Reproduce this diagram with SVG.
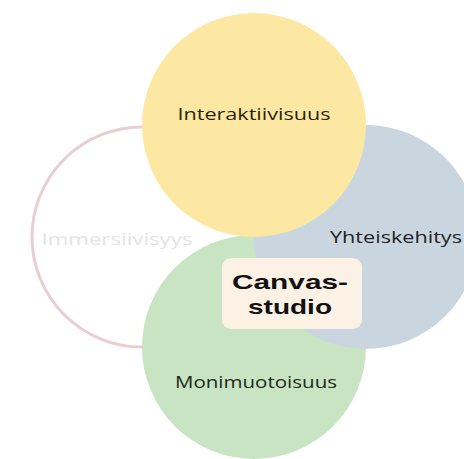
<svg xmlns="http://www.w3.org/2000/svg" width="464" height="459" viewBox="0 0 464 459">
<style>
.lbl{font-family:"Open Sans","Liberation Sans",sans-serif;font-size:16px;text-anchor:middle}
.ctr{font-family:"Liberation Sans","Open Sans",sans-serif;font-weight:bold;font-size:21px;fill:#111;text-anchor:middle}
</style>
<rect width="464" height="459" fill="#ffffff"/>
<g id="immersiivisyys">
<circle cx="142" cy="237" r="110" fill="#ffffff" stroke="#e9cdd0" stroke-width="3"/>
</g>
<g id="monimuotoisuus">
<circle cx="254" cy="347" r="112" fill="#c9e4c2"/>
</g>
<g id="yhteiskehitys">
<circle cx="366" cy="237" r="112" fill="#c9d6df"/>
</g>
<g id="interaktiivisuus">
<circle cx="254" cy="125" r="112" fill="#fde8a3"/>
</g>
<g id="labels">
<text class="lbl" x="254" y="120" fill="#2a2510" textLength="153" lengthAdjust="spacingAndGlyphs">Interaktiivisuus</text>
<text class="lbl" x="117" y="245" fill="#e4e4e4" textLength="151" lengthAdjust="spacingAndGlyphs">Immersiivisyys</text>
<text class="lbl" x="396" y="243" fill="#1e2226" textLength="132" lengthAdjust="spacingAndGlyphs">Yhteiskehitys</text>
<text class="lbl" x="256" y="388" fill="#1d2a1b" textLength="162" lengthAdjust="spacingAndGlyphs">Monimuotoisuus</text>
</g>
<g id="canvas-studio">
<rect x="222" y="258" width="140" height="71" rx="9" fill="#fcf1e5"/>
<text class="ctr" x="290" y="289" textLength="116" lengthAdjust="spacingAndGlyphs">Canvas-</text>
<text class="ctr" x="290" y="314" textLength="84" lengthAdjust="spacingAndGlyphs">studio</text>
</g>
</svg>
